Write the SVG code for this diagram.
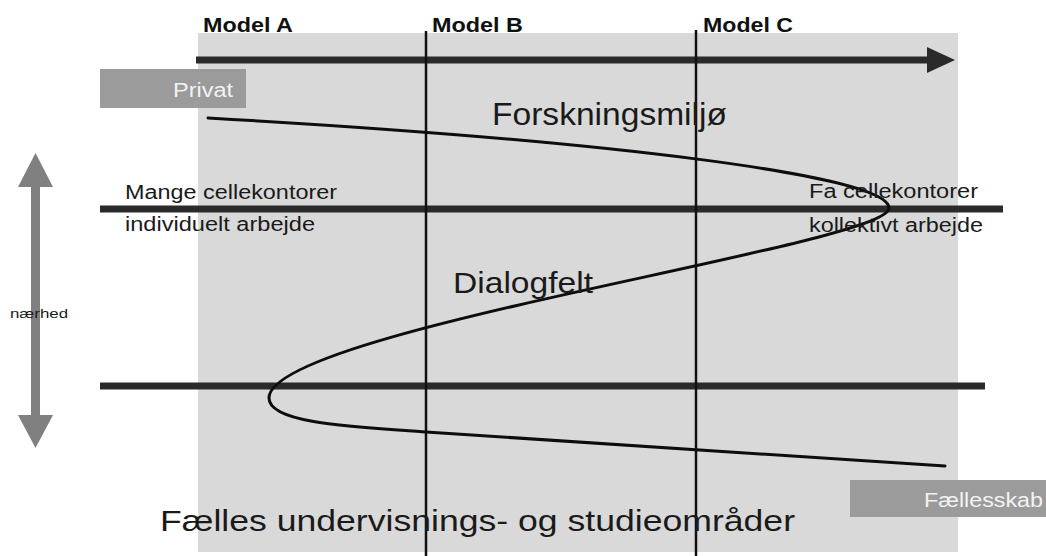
<svg xmlns="http://www.w3.org/2000/svg" width="1046" height="556" viewBox="0 0 1046 556">
  <style>
    .lbl { font-family: "Liberation Sans", Arial, sans-serif; fill: #1a1a1a; }
    .model { font-family: "Liberation Sans", Arial, sans-serif; font-weight: bold; font-size: 21px; fill: #111; }
    .tag { font-family: "Liberation Sans", Arial, sans-serif; font-size: 20px; fill: #f2f2f2; }
    .bar { stroke: #2a2a2a; stroke-width: 7; fill: none; }
    .vline { stroke: #111; stroke-width: 2.5; fill: none; }
    .curve { stroke: #0d0d0d; stroke-width: 3; fill: none; stroke-linecap: round; }
    .tagbox { fill: #9b9b9b; }
  </style>
  <rect x="0" y="0" width="1046" height="556" fill="#ffffff"/>
  <g id="panel">
    <rect x="198" y="33" width="760" height="519" fill="#d9d9d9"/>
  </g>
  <g id="naerhed-axis">
    <rect x="31" y="186" width="9" height="230" fill="#808080"/>
    <polygon points="18,187 35.5,153 53,187" fill="#808080"/>
    <polygon points="18,415 35.5,448 53,415" fill="#808080"/>
    <text class="lbl" x="10" y="318" font-size="13" textLength="58" lengthAdjust="spacingAndGlyphs">nærhed</text>
  </g>
  <g id="connectors">
    <line class="bar" x1="196" y1="60" x2="930" y2="60"/>
    <polygon points="927,47 955,60 927,73" fill="#2a2a2a"/>
    <line class="bar" x1="100" y1="209" x2="1003" y2="209"/>
    <line class="bar" x1="100" y1="386" x2="985" y2="386"/>
    <line class="vline" x1="426" y1="31" x2="426" y2="556"/>
    <line class="vline" x1="696" y1="30" x2="696" y2="556"/>
    <path class="curve" d="M208,118 C600,140 889,175 889,208 C889,245 269,330 269,398 C269,422 340,426 426,432 L945,466"/>
  </g>
  <g id="model-a"><text class="model" x="203" y="32" textLength="90" lengthAdjust="spacingAndGlyphs">Model A</text></g>
  <g id="model-b"><text class="model" x="432" y="32" textLength="91" lengthAdjust="spacingAndGlyphs">Model B</text></g>
  <g id="model-c"><text class="model" x="703" y="32" textLength="90" lengthAdjust="spacingAndGlyphs">Model C</text></g>
  <g id="privat">
    <rect class="tagbox" x="100" y="69" width="146" height="39"/>
    <text class="tag" x="173" y="97" textLength="60" lengthAdjust="spacingAndGlyphs">Privat</text>
  </g>
  <g id="faellesskab">
    <rect class="tagbox" x="850" y="480" width="196" height="37"/>
    <text class="tag" x="924" y="507" textLength="119" lengthAdjust="spacingAndGlyphs">Fællesskab</text>
  </g>
  <g id="forskningsmiljo">
    <text class="lbl" x="492" y="125" font-size="32" textLength="235" lengthAdjust="spacingAndGlyphs">Forskningsmiljø</text>
  </g>
  <g id="dialogfelt">
    <text class="lbl" x="453" y="293" font-size="29" textLength="140" lengthAdjust="spacingAndGlyphs">Dialogfelt</text>
  </g>
  <g id="faelles-omraader">
    <text class="lbl" x="160" y="531" font-size="30" textLength="635" lengthAdjust="spacingAndGlyphs">Fælles undervisnings- og studieområder</text>
  </g>
  <g id="mange-cellekontorer">
    <text class="lbl" x="125" y="199" font-size="20" textLength="212" lengthAdjust="spacingAndGlyphs">Mange cellekontorer</text>
    <text class="lbl" x="125" y="231" font-size="20" textLength="190" lengthAdjust="spacingAndGlyphs">individuelt arbejde</text>
  </g>
  <g id="faa-cellekontorer">
    <text class="lbl" x="809" y="198" font-size="20" textLength="169" lengthAdjust="spacingAndGlyphs">Fa cellekontorer</text>
    <text class="lbl" x="809" y="232" font-size="20" textLength="174" lengthAdjust="spacingAndGlyphs">kollektivt arbejde</text>
  </g>
</svg>
